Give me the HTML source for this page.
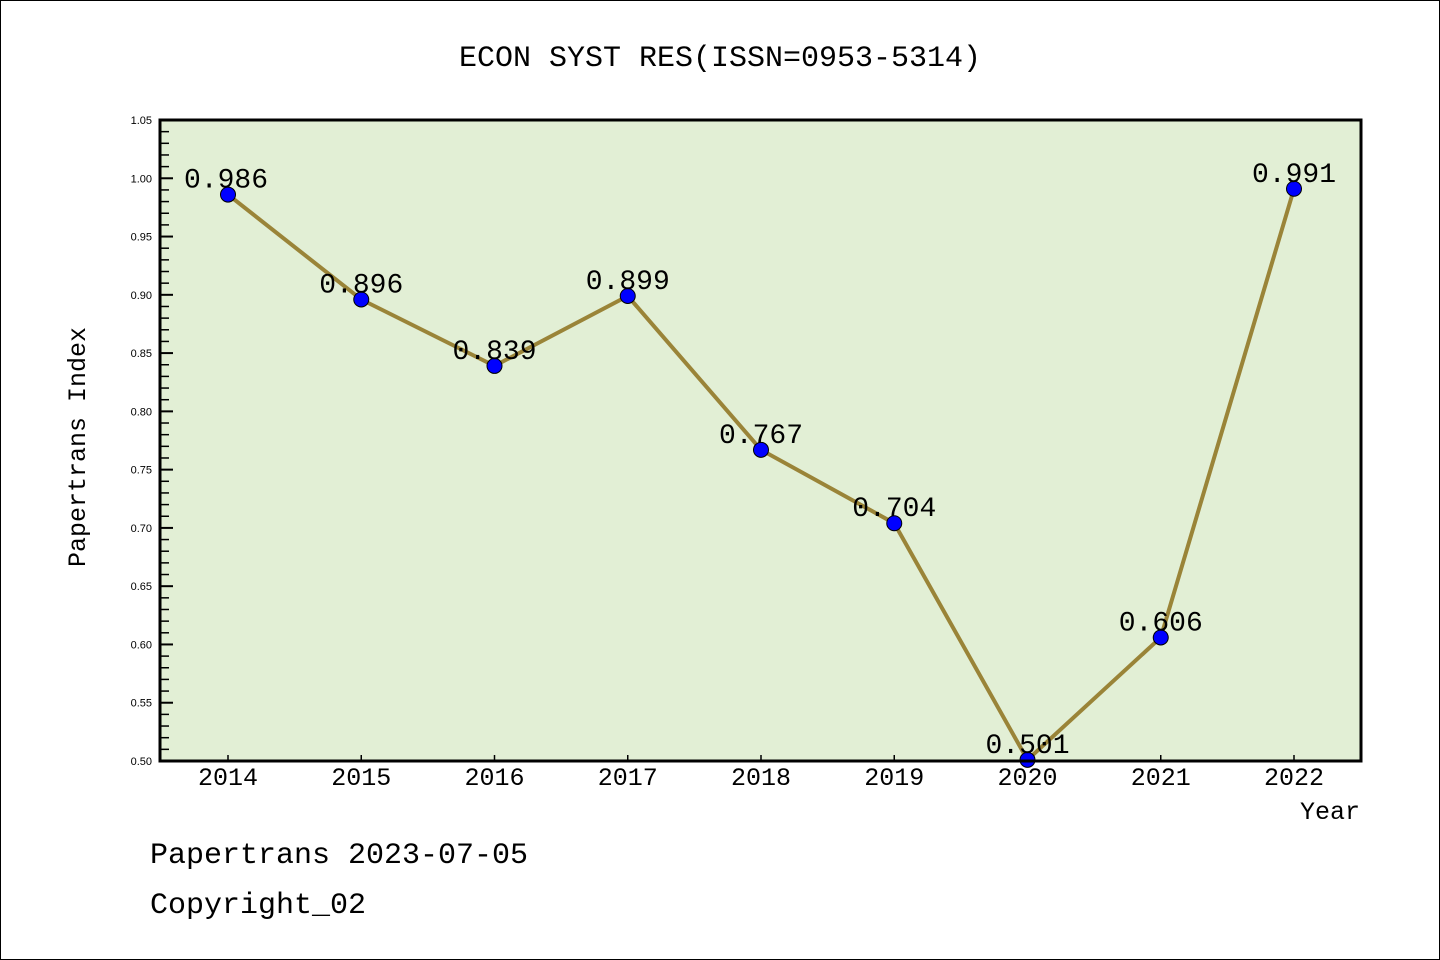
<!DOCTYPE html>
<html><head><meta charset="utf-8"><style>
html,body{margin:0;padding:0;background:#fff;}
svg{display:block;font-family:"Liberation Mono","WenQuanYi Zen Hei",monospace;}
</style></head><body>
<svg id="chart" width="1440" height="960">
<rect x="0.5" y="0.5" width="1439" height="959" fill="#fff" stroke="#000"/>
<text x="720" y="66" text-anchor="middle" font-size="30">ECON SYST RES(ISSN=0953-5314)</text>
<rect x="160" y="120" width="1201" height="641" fill="#e2efd5"/>
<g id="yticks"></g><g id="xticks"></g>
<g id="series"></g>
<rect x="160" y="120" width="1201" height="641" fill="none" stroke="#000" stroke-width="3"/>
<text x="85" y="447" text-anchor="middle" font-size="25" transform="rotate(-90 85 447)">Papertrans Index</text>
<text x="1360" y="819" text-anchor="end" font-size="25">Year</text>
<text x="150" y="863" font-size="30">Papertrans 2023-07-05</text>
<text x="150" y="913" font-size="30">Copyright_02</text>
</svg>
<script>
const years=["2014","2015","2016","2017","2018","2019","2020","2021","2022"];
const values=[0.986,0.896,0.839,0.899,0.767,0.704,0.501,0.606,0.991];
const labels=["0.986","0.896","0.839","0.899","0.767","0.704","0.501","0.606","0.991"];
const yTicks=["0.50","0.55","0.60","0.65","0.70","0.75","0.80","0.85","0.90","0.95","1.00","1.05"];
const NS="http://www.w3.org/2000/svg";
const yMin=0.5,yMax=1.05,plotTop=120,plotBot=761;
function ys(v){return plotBot-(v-yMin)/(yMax-yMin)*(plotBot-plotTop);}
function xs(i){return 228+i*133.25;}
function mk(t,a,p){const e=document.createElementNS(NS,t);for(const k in a)e.setAttribute(k,a[k]);p.appendChild(e);return e;}
const yg=document.getElementById('yticks');
yTicks.forEach((t,i)=>{
 const v=parseFloat(t),y=ys(v);
 const l=mk('line',{x1:160,x2:173,y1:y,y2:y,stroke:'#000','stroke-width':2},yg);
 
 
 const tx=mk('text',{x:152,y:y+4,'text-anchor':'end','font-size':11,'font-family':'Liberation Sans, sans-serif'},yg);
 tx.textContent=t;
 
 
 if(i<yTicks.length-1){
  for(let k=1;k<5;k++){
   const ym=ys(v+k*0.01);
   const m=mk('line',{x1:160,x2:169,y1:ym,y2:ym,stroke:'#000','stroke-width':1.5},yg);
   
   
  }
 }
});
const xg=document.getElementById('xticks');
years.forEach((yr,i)=>{
 const x=xs(i);
 const l=mk('line',{x1:x,x2:x,y1:plotBot,y2:plotBot-6,stroke:'#000','stroke-width':1.5},xg);
 
 
 const t=mk('text',{x:x,y:785,'text-anchor':'middle','font-size':25},xg);
 t.textContent=yr;
 
 
});
const sg=document.getElementById('series');
const pl=mk('polyline',{points:values.map((v,i)=>xs(i)+','+ys(v)).join(' '),fill:'none',stroke:'#9a8438','stroke-width':4},sg);


values.forEach((v,i)=>{
 const c=mk('circle',{cx:xs(i),cy:ys(v),r:7.5,fill:'#0000ff',stroke:'#000','stroke-width':1},sg);
 
 
 const t=mk('text',{x:xs(i)+(i===0?-2:0),y:ys(v)-7,'text-anchor':'middle','font-size':28},sg);
 t.textContent=labels[i];
 
 
});
</script>
</body></html>
